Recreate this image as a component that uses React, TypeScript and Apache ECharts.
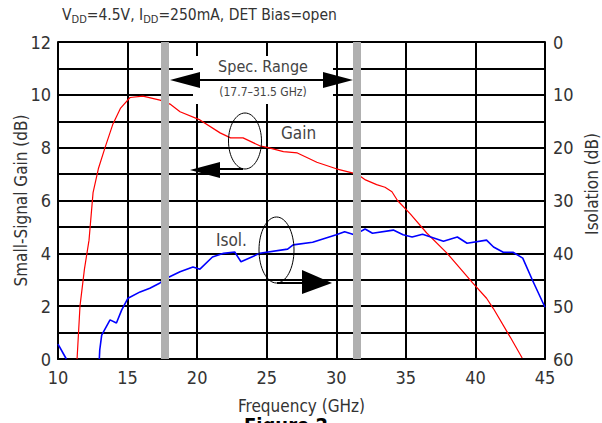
import React, { useEffect, useRef } from "react";
import * as echarts from "echarts";

const FONT = '"Liberation Sans Narrow", "DejaVu Sans Condensed", "Roboto", sans-serif';
const TXT = "#333333";

const xTicks = [10, 15, 20, 25, 30, 35, 40, 45];
const gainTicks = [0, 2, 4, 6, 8, 10, 12];
const isoTicks = [0, 10, 20, 30, 40, 50, 60];
const specBand = [17.7, 31.5];

// Small-signal gain (freq GHz, dB)
const gainFreq = [11.37, 11.58, 11.9, 12.23, 12.52, 12.9, 13.38, 13.95, 14.5, 15.18, 16.1, 17.33, 18.05, 18.77, 20.2, 21.65, 22.4, 23.3, 24.5, 25.1, 26.2, 27.2, 28.0, 28.6, 30.0, 31.5, 32.1, 32.9, 33.5, 34.0, 34.4, 35.3, 36.5, 37.97, 39.8, 40.8, 41.3, 42.5, 43.36];
const gainVal = [0, 2, 3.4, 4.5, 6.3, 7.2, 8.0, 8.9, 9.5, 9.9, 9.95, 9.8, 9.65, 9.36, 9.05, 8.56, 8.37, 8.37, 8.07, 8.0, 7.85, 7.8, 7.6, 7.45, 7.2, 7.0, 6.78, 6.6, 6.5, 6.33, 6.0, 5.5, 4.77, 4.0, 2.88, 2.3, 1.9, 0.83, 0.04];

// Isolation (freq GHz, dB) - two segments
const isoFreqA = [10, 10.6];
const isoValA = [57.2, 60];
const isoFreqB = [12.97, 13.0, 13.14, 13.74, 14.2, 14.58, 15.03, 15.9, 16.6, 17.33, 17.8, 18.77, 19.7, 20.2, 21.1, 21.9, 22.7, 23.15, 24.5, 26.5, 26.9, 28.3, 30.0, 30.6, 31.3, 32.07, 32.6, 34.1, 34.8, 35.45, 36.2, 37.7, 38.7, 39.4, 40.8, 41.3, 42.0, 42.7, 43.4, 44.1, 45.0];
const isoValB = [60, 58.3, 55.5, 52.6, 53.2, 50.7, 48.5, 47.3, 46.6, 45.6, 44.7, 43.5, 42.6, 43.0, 40.7, 40.0, 39.75, 41.6, 40.0, 39.2, 38.4, 37.9, 36.5, 35.9, 36.5, 35.4, 36.2, 35.6, 36.5, 36.9, 36.4, 37.7, 36.9, 38.1, 37.5, 38.8, 39.8, 39.8, 40.9, 45.1, 50.2];

const zip = (a: number[], b: number[]) => a.map((v, i) => [v, b[i]]);

export default function App() {
  const ref = useRef<HTMLDivElement>(null);
  useEffect(() => {
    if (!ref.current) return;
    const chart = echarts.init(ref.current, null, { renderer: "svg" });
    const tickLabel = { color: TXT, fontFamily: FONT, fontSize: 18 };
    chart.setOption({
      animation: false,
      backgroundColor: "#ffffff",
      grid: { left: 58, right: 57, top: 42, bottom: 64, containLabel: false, outerBoundsMode: "none" },
      xAxis: {
        type: "value",
        min: xTicks[0],
        max: xTicks[xTicks.length - 1],
        interval: 5,
        name: "Frequency (GHz)",
        nameLocation: "middle",
        nameGap: 38,
        nameMoveOverlap: false,
        nameTextStyle: { color: TXT, fontFamily: FONT, fontSize: 17 },
        axisLine: { lineStyle: { color: "#000", width: 2 } },
        axisTick: { show: false },
        axisLabel: { ...tickLabel, margin: 9 },
        splitLine: { show: true, lineStyle: { color: "#000", width: 2 } },
      },
      yAxis: [
        {
          type: "value",
          min: 0,
          max: 12,
          interval: 1,
          name: "Small-Signal Gain (dB)",
          nameLocation: "middle",
          nameGap: 29,
          nameRotate: 90,
          nameMoveOverlap: false,
          nameTextStyle: { color: TXT, fontFamily: FONT, fontSize: 17 },
          axisLine: { show: true, lineStyle: { color: "#000", width: 2 } },
          axisTick: { show: false },
          axisLabel: {
            ...tickLabel,
            margin: 7,
            formatter: (v: number) => (gainTicks.includes(v) ? String(v) : ""),
          },
          splitLine: { show: true, lineStyle: { color: "#000", width: 2 } },
        },
        {
          type: "value",
          min: 0,
          max: 60,
          interval: 10,
          inverse: true,
          position: "right",
          axisLine: { show: true, lineStyle: { color: "#000", width: 2 } },
          axisTick: { show: false },
          axisLabel: {
            ...tickLabel,
            margin: 8,
            formatter: (v: number) => (isoTicks.includes(v) ? String(v) : ""),
          },
          splitLine: { show: false },
        },
      ],
      series: [
        {
          type: "line",
          name: "band",
          data: [],
          z: 1,
          markLine: {
            silent: true,
            symbol: ["none", "none"],
            label: { show: false },
            lineStyle: { color: "#b0b0b0", width: 8, type: "solid" },
            data: specBand.map((f) => ({ xAxis: f })),
          },
        },
        {
          type: "line",
          name: "Gain",
          yAxisIndex: 0,
          data: zip(gainFreq, gainVal),
          showSymbol: false,
          lineStyle: { color: "#ff0000", width: 1.2 },
          z: 3,
        },
        {
          type: "line",
          name: "IsolA",
          yAxisIndex: 1,
          data: zip(isoFreqA, isoValA),
          showSymbol: false,
          lineStyle: { color: "#0000ff", width: 1.6 },
          z: 3,
        },
        {
          type: "line",
          name: "Isol",
          yAxisIndex: 1,
          data: zip(isoFreqB, isoValB),
          showSymbol: false,
          lineStyle: { color: "#0000ff", width: 1.6 },
          z: 3,
        },
      ],
      graphic: [
        {
          type: "text",
          left: 62,
          top: 5,
          z: 10,
          style: {
            text: "{n|V}{s|DD}{n|=4.5V, I}{s|DD}{n|=250mA, DET Bias=open}",
            fill: TXT,
            rich: {
              n: { fontFamily: FONT, fontSize: 15.5, fill: TXT, lineHeight: 20 },
              s: { fontFamily: FONT, fontSize: 11, fill: TXT, padding: [9, 0, 0, 0], lineHeight: 20 },
            },
          },
        },
        {
          type: "text",
          z: 10,
          x: 592,
          y: 184,
          rotation: Math.PI / 2,
          style: { text: "Isolation (dB)", fontFamily: FONT, fontSize: 17, fill: TXT, align: "center", verticalAlign: "middle" },
        },
        { type: "rect", z: 5, shape: { x: 193, y: 56, width: 140, height: 48 }, style: { fill: "#ffffff" } },
        { type: "text", z: 10, x: 263, y: 66, style: { text: "Spec. Range", fontFamily: FONT, fontSize: 16, fill: "#444", align: "center", verticalAlign: "middle" } },
        { type: "text", z: 10, x: 263, y: 92, style: { text: "(17.7–31.5 GHz)", fontFamily: FONT, fontSize: 12, fill: "#444", align: "center", verticalAlign: "middle" } },
        { type: "line", z: 10, shape: { x1: 185, y1: 80, x2: 340, y2: 80 }, style: { stroke: "#000", lineWidth: 2 } },
        { type: "polygon", z: 10, shape: { points: [[170, 80], [200, 72], [200, 88]] }, style: { fill: "#000" } },
        { type: "polygon", z: 10, shape: { points: [[353, 80], [323, 72], [323, 88]] }, style: { fill: "#000" } },
        { type: "ellipse", z: 10, shape: { cx: 245, cy: 141, rx: 16.5, ry: 28 }, style: { fill: "none", stroke: "#000", lineWidth: 1 } },
        { type: "text", z: 10, x: 281, y: 133, style: { text: "Gain", fontFamily: FONT, fontSize: 17, fill: "#444", align: "left", verticalAlign: "middle" } },
        { type: "line", z: 10, shape: { x1: 215, y1: 169, x2: 243, y2: 169 }, style: { stroke: "#000", lineWidth: 2 } },
        { type: "polygon", z: 10, shape: { points: [[190, 170], [220, 162], [220, 178]] }, style: { fill: "#000" } },
        { type: "ellipse", z: 10, shape: { cx: 276.5, cy: 250, rx: 17.5, ry: 33 }, style: { fill: "none", stroke: "#000", lineWidth: 1 } },
        { type: "text", z: 10, x: 216, y: 240, style: { text: "Isol.", fontFamily: FONT, fontSize: 17, fill: "#444", align: "left", verticalAlign: "middle" } },
        { type: "line", z: 10, shape: { x1: 277, y1: 283, x2: 306, y2: 283 }, style: { stroke: "#000", lineWidth: 2 } },
        { type: "polygon", z: 10, shape: { points: [[332, 283], [302, 270], [302, 294]] }, style: { fill: "#000" } },
        { type: "text", z: 10, x: 286, y: 415, style: { text: "Figure 2", fontFamily: FONT, fontSize: 20, fontWeight: "bold", fill: "#000", align: "center", verticalAlign: "top" } },
      ],
    });
    return () => chart.dispose();
  }, []);
  return (
    <div
      ref={ref}
      style={{ position: "fixed", left: 0, top: 0, width: 602, height: 423, background: "#fff" }}
    />
  );
}
